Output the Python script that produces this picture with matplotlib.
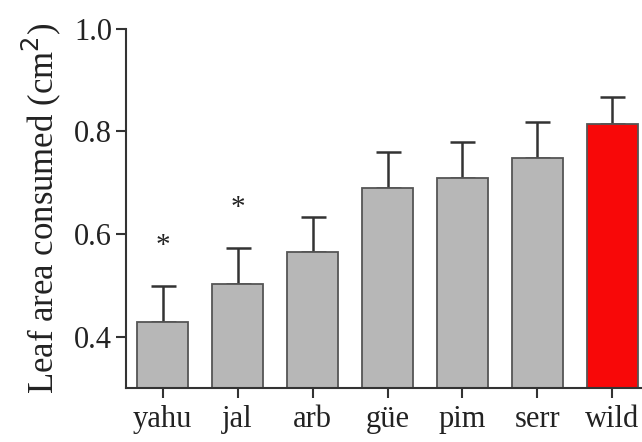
import numpy as np
import matplotlib.pyplot as plt

plt.rcParams['font.family'] = 'Liberation Serif'

# data
groups = ["yahu", "jal", "arb", "güe", "pim", "serr", "wild"]
means = [0.429, 0.503, 0.565, 0.690, 0.710, 0.749, 0.815]
upper = [0.499, 0.573, 0.634, 0.759, 0.780, 0.818, 0.866]
stars = {"yahu": 0.576, "jal": 0.651}

errs = np.array(upper) - np.array(means)
colors = ["#b7b7b7"] * 6 + ["#f80808"]
x = np.arange(len(groups))

fig = plt.figure(figsize=(6.42, 4.42), dpi=100)
ax = fig.add_axes([0.196, 0.1215, 0.8035, 0.814])

ax.bar(x, means, width=0.675, color=colors, edgecolor="#555555", linewidth=1.3,
       zorder=2)
ax.errorbar(x, means, yerr=[np.zeros(len(x)), errs], fmt="none",
            ecolor="#333333", elinewidth=1.8, capsize=9, capthick=1.8, zorder=1)

for g, yv in stars.items():
    ax.text(groups.index(g), yv, "*", ha="center", va="center", fontsize=21,
            color="#222222")

ax.set_xlim(-0.49, 6.39)
ax.set_ylim(0.3, 1.0)
ax.set_yticks([0.4, 0.6, 0.8, 1.0])
ax.set_yticklabels(["0.4", "0.6", "0.8", "1.0"])
ax.set_xticks(x)
ax.set_xticklabels(groups)

for s in ["top", "right"]:
    ax.spines[s].set_visible(False)
for s in ["left", "bottom"]:
    ax.spines[s].set_linewidth(1.5)
    ax.spines[s].set_color("#333333")

ax.tick_params(axis="both", direction="out", length=7, width=1.5,
               color="#333333", labelsize=22, labelcolor="#222222", pad=3)
ax.tick_params(axis="x", pad=5)
ax.set_ylabel("Leaf area consumed (cm$^2$)", fontsize=25, color="#222222",
              labelpad=8)

fig.savefig("out.png", dpi=100)
